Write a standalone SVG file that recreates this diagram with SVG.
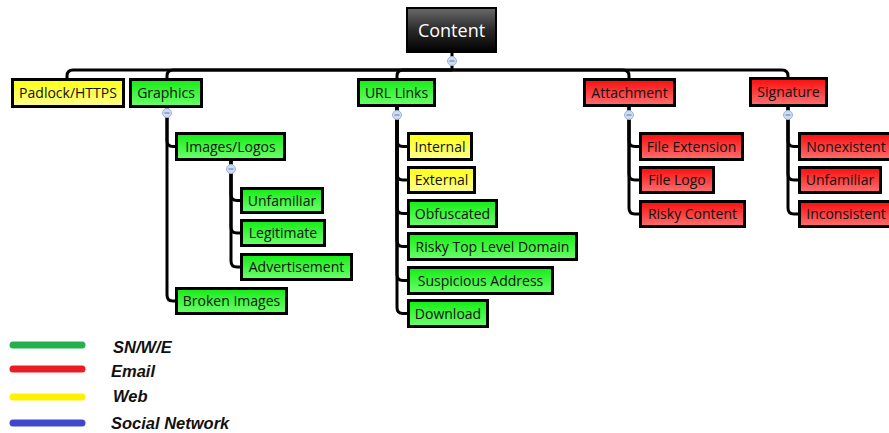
<svg xmlns="http://www.w3.org/2000/svg" width="889" height="433" viewBox="0 0 889 433">
<defs>
<linearGradient id="gG" x1="0" y1="0" x2="0" y2="1"><stop offset="0" stop-color="#14ec14"/><stop offset="1" stop-color="#6cff6c"/></linearGradient>
<linearGradient id="gY" x1="0" y1="0" x2="0" y2="1"><stop offset="0" stop-color="#ffff10"/><stop offset="1" stop-color="#ffff90"/></linearGradient>
<linearGradient id="gR" x1="0" y1="0" x2="0" y2="1"><stop offset="0" stop-color="#fa0c0c"/><stop offset="1" stop-color="#ff7070"/></linearGradient>
<linearGradient id="gK" x1="0" y1="0" x2="0" y2="1"><stop offset="0" stop-color="#6a6a6a"/><stop offset="0.5" stop-color="#2a2a2a"/><stop offset="1" stop-color="#000"/></linearGradient>
<g id="col"><circle r="4.5" fill="#cfdcf2" stroke="#9db3dc" stroke-width="1"/><line x1="-2.5" y1="0" x2="2.5" y2="0" stroke="#5a78b0" stroke-width="1"/></g>
</defs>
<style>
.b{stroke:#000;stroke-width:3}
.g{fill:url(#gG)}.y{fill:url(#gY)}.r{fill:url(#gR)}
.t{font-family:"Open Sans","Noto Sans",sans-serif;font-size:14px;fill:#111;text-anchor:middle}
.c{fill:none;stroke:#000;stroke-width:3}
.lg{fill:none;stroke-width:7;stroke-linecap:round}
.lt{font-family:"Liberation Sans",Arial,sans-serif;font-size:16.5px;font-weight:bold;font-style:italic;fill:#111}
</style>
<rect width="889" height="433" fill="#fff"/>

<g id="connectors">
<path class="c" d="M452 53V70"/>
<path class="c" d="M452 70H73Q67 70 67 76V79"/>
<path class="c" d="M452 70H173Q167 70 167 76V79"/>
<path class="c" d="M452 70H403Q397 70 397 76V79"/>
<path class="c" d="M452 70H623Q629 70 629 76V79"/>
<path class="c" d="M452 70H782Q788 70 788 76V78"/>
<path class="c" d="M167 108V140.5Q167 146.5 173 146.5H176"/>
<path class="c" d="M167 108V295Q167 301 173 301H176"/>
<path class="c" d="M231 161V194.5Q231 200.5 237 200.5H241"/>
<path class="c" d="M231 161V227Q231 233 237 233H241"/>
<path class="c" d="M231 161V261Q231 267 237 267H241"/>
<path class="c" d="M397 107V140.5Q397 146.5 403 146.5H408"/>
<path class="c" d="M397 107V174Q397 180 403 180H408"/>
<path class="c" d="M397 107V207.5Q397 213.5 403 213.5H408"/>
<path class="c" d="M397 107V240.5Q397 246.5 403 246.5H408"/>
<path class="c" d="M397 107V274.5Q397 280.5 403 280.5H408"/>
<path class="c" d="M397 107V307.5Q397 313.5 403 313.5H408"/>
<path class="c" d="M629 107V140.5Q629 146.5 635 146.5H640"/>
<path class="c" d="M629 107V174Q629 180 635 180H640"/>
<path class="c" d="M629 107V208Q629 214 635 214H640"/>
<path class="c" d="M788 107V140.5Q788 146.5 794 146.5H799"/>
<path class="c" d="M788 107V174Q788 180 794 180H799"/>
<path class="c" d="M788 107V208Q788 214 794 214H799"/>
</g>

<g id="content">
<rect x="407" y="8" width="89" height="44" fill="url(#gK)" stroke="#000" stroke-width="2"/>
<text x="451.5" y="37" font-family="'Open Sans','Noto Sans',sans-serif" font-size="18" fill="#fff" text-anchor="middle">Content</text>
<use href="#col" x="452" y="61"/>
</g>

<g id="padlock"><rect class="b y" x="12.5" y="79.5" width="111" height="27"/><text class="t" x="68" y="98">Padlock/HTTPS</text></g>
<g id="graphics"><rect class="b g" x="130.5" y="79.5" width="71" height="27"/><text class="t" x="166" y="98">Graphics</text><use href="#col" x="167" y="113"/></g>
<g id="urllinks"><rect class="b g" x="358.5" y="79.5" width="76" height="26"/><text class="t" x="396.5" y="97.5">URL Links</text><use href="#col" x="397" y="115"/></g>
<g id="attachment"><rect class="b r" x="584.5" y="79.5" width="90" height="26"/><text class="t" x="629.5" y="97.5">Attachment</text><use href="#col" x="629" y="115"/></g>
<g id="signature"><rect class="b r" x="750.5" y="78.5" width="76" height="27"/><text class="t" x="788.5" y="97">Signature</text><use href="#col" x="788" y="115"/></g>

<g id="imageslogos"><rect class="b g" x="176.5" y="133.5" width="108" height="26"/><text class="t" x="230.5" y="151.5">Images/Logos</text><use href="#col" x="231" y="169"/></g>
<g id="unfamiliar-img"><rect class="b g" x="241.5" y="188.5" width="81" height="24"/><text class="t" x="282" y="205.5">Unfamiliar</text></g>
<g id="legitimate"><rect class="b g" x="241.5" y="220.5" width="83" height="25"/><text class="t" x="283" y="238">Legitimate</text></g>
<g id="advertisement"><rect class="b g" x="241.5" y="254.5" width="110" height="25"/><text class="t" x="296.5" y="272">Advertisement</text></g>
<g id="brokenimages"><rect class="b g" x="176.5" y="288.5" width="110" height="25"/><text class="t" x="231.5" y="306">Broken Images</text></g>

<g id="internal"><rect class="b y" x="408.5" y="133.5" width="63" height="26"/><text class="t" x="440" y="151.5">Internal</text></g>
<g id="external"><rect class="b y" x="408.5" y="167.5" width="66" height="25"/><text class="t" x="441.5" y="185">External</text></g>
<g id="obfuscated"><rect class="b g" x="408.5" y="200.5" width="88" height="26"/><text class="t" x="452.5" y="218.5">Obfuscated</text></g>
<g id="riskytld"><rect class="b g" x="408.5" y="233.5" width="168" height="26"/><text class="t" x="492.5" y="251.5">Risky Top Level Domain</text></g>
<g id="suspicious"><rect class="b g" x="408.5" y="267.5" width="144" height="26"/><text class="t" x="480.5" y="285.5">Suspicious Address</text></g>
<g id="download"><rect class="b g" x="408.5" y="300.5" width="79" height="26"/><text class="t" x="448" y="318.5">Download</text></g>

<g id="fileextension"><rect class="b r" x="640.5" y="133.5" width="102" height="26"/><text class="t" x="691.5" y="151.5">File Extension</text></g>
<g id="filelogo"><rect class="b r" x="640.5" y="167.5" width="73" height="25"/><text class="t" x="677" y="185">File Logo</text></g>
<g id="riskycontent"><rect class="b r" x="640.5" y="201.5" width="104" height="25"/><text class="t" x="692.5" y="219">Risky Content</text></g>

<g id="nonexistent"><rect class="b r" x="799.5" y="133.5" width="94" height="26"/><text class="t" x="846" y="151.5">Nonexistent</text></g>
<g id="unfamiliar-sig"><rect class="b r" x="799.5" y="167.5" width="81" height="25"/><text class="t" x="840" y="185">Unfamiliar</text></g>
<g id="inconsistent"><rect class="b r" x="799.5" y="201.5" width="94" height="25"/><text class="t" x="846" y="219">Inconsistent</text></g>

<g id="legend">
<line class="lg" x1="13" y1="345" x2="82" y2="345" stroke="#22b14c"/>
<line class="lg" x1="13" y1="369" x2="82" y2="369" stroke="#ed1c24"/>
<line class="lg" x1="13" y1="397" x2="82" y2="397" stroke="#fff200"/>
<line class="lg" x1="13" y1="423" x2="82" y2="423" stroke="#3f48cc"/>
<text class="lt" x="113" y="353">SN/W/E</text>
<text class="lt" x="111" y="377">Email</text>
<text class="lt" x="113" y="402">Web</text>
<text class="lt" x="111" y="429">Social Network</text>
</g>
</svg>
